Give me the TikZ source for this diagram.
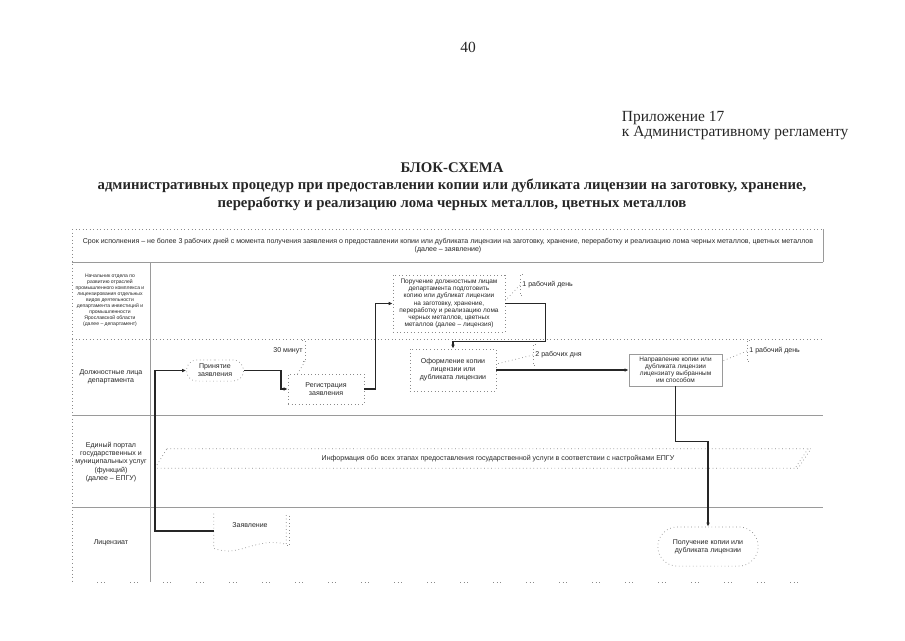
\documentclass[tikz,border=0pt]{standalone}
\usepackage{fontspec}
\setmainfont{Liberation Serif}
\setsansfont{Liberation Sans}
\usepackage{tikz}
\usetikzlibrary{arrows.meta,positioning,calc,shapes.misc}
\usepackage{xcolor}
\definecolor{ink}{HTML}{262626}
\definecolor{frame}{HTML}{9A9A9A}
\definecolor{dots}{HTML}{8A8A8A}
\newcommand{\pagefont}{\fontsize{11}{13}\selectfont}
\newcommand{\titlefont}{\bfseries\fontsize{10.5}{12.5}\selectfont}
\newcommand{\tinyfont}{\sffamily\fontsize{5}{5.8}\selectfont}
\newcommand{\boxfont}{\sffamily\fontsize{4.6}{5.1}\selectfont}
\newcommand{\microfont}{\sffamily\fontsize{3.6}{4.3}\selectfont}
\tikzset{
  >={Latex[length=2.8pt,width=2.6pt]},
  every node/.style={text=ink},
  gridline/.style={draw=frame,line width=0.5pt},
  dotline/.style={draw=dots,dotted,line width=0.5pt},
  lanetext/.style={font=\tinyfont,align=center,inner sep=1pt},
  procbox/.style={draw=dots,dotted,line width=0.5pt,align=center,font=\tinyfont,inner sep=1pt},
  solidbox/.style={procbox,solid,draw=frame},
  termbox/.style={procbox,rounded rectangle},
  docbox/.style={align=center,font=\tinyfont,inner sep=1pt},
  notetext/.style={font=\tinyfont,inner sep=1.5pt,minimum height=0.5cm},
  bracket/.style={draw=dots,dotted,line width=0.5pt},
  flow/.style={->,draw=ink,line width=0.8pt},
}

\begin{document}
\begin{tikzpicture}[x=0.025cm,y=-0.025cm]
\useasboundingbox (0,0) rectangle (905,640);

% page header
\node[font=\pagefont] (pgnum) at (468,47) {40};
\node[font=\pagefont,anchor=west] (appx) at (617,118) {Приложение 17};
\node[font=\pagefont,anchor=west] (appxb) at (617,133) {к Административному регламенту};
\node[font=\titlefont] (title) at (452,168) {БЛОК-СХЕМА};
\node[font=\titlefont] (sub1) at (452,186) {административных процедур при предоставлении копии или дубликата лицензии на заготовку, хранение,};
\node[font=\titlefont] (sub2) at (452,204) {переработку и реализацию лома черных металлов, цветных металлов};

% lanes
\draw[dotline] (72,229) -- (72,582);
\draw[dotline] (72,229) -- (823,229);
\draw[gridline] (823,229) -- (823,262);
\draw[gridline] (72,262) -- (823,262);
\draw[dotline] (72,339) -- (823,339);
\draw[gridline] (72,415) -- (823,415);
\draw[gridline] (72,507) -- (823,507);
\draw[gridline] (150,262) -- (150,582);
\foreach \x in {97,130,...,810}
  \draw[dotline] (\x,582) -- ++(10,0);

\node[lanetext] (term) at (448,246) {Срок исполнения – не более 3 рабочих дней с момента получения заявления о предоставлении копии или дубликата  лицензии на заготовку, хранение, переработку и реализацию лома черных металлов, цветных металлов\\(далее – заявление)};

\node[lanetext,font=\microfont] (lane1) at (110,300) {Начальник отдела по\\развитию отраслей\\промышленного комплекса и\\лицензирования отдельных\\видов деятельности\\департамента инвестиций и\\промышленности\\Ярославской области\\(далее – департамент)};
\node[lanetext] (lane2) at (111,377) {Должностные лица\\департамента};
\node[lanetext] (lane3) at (111,462) {Единый портал\\государственных и\\муниципальных услуг\\(функций)\\(далее – ЕПГУ)};
\node[lanetext] (lane4) at (111,543) {Лицензиат};

% steps
\node[termbox,minimum width=1.5cm,minimum height=0.53cm] (prin) at (215,370.5) {Принятие\\заявления};
\node[procbox,minimum width=1.9cm,minimum height=0.75cm] (reg) at (326,389) {Регистрация\\заявления};
\node[procbox,font=\boxfont,minimum width=2.8cm,minimum height=1.42cm] (poruch) at (449,303.5) {Поручение должностным лицам\\департамента подготовить\\копию или дубликат лицензии\\на заготовку, хранение,\\переработку и реализацию лома\\черных металлов, цветных\\металлов (далее – лицензия)};
\node[procbox,minimum width=2.15cm,minimum height=1.05cm] (ofor) at (453,370) {Оформление копии\\лицензии или\\дубликата лицензии};
\node[solidbox,font=\boxfont,minimum width=2.33cm,minimum height=0.8cm] (naprav) at (675.5,370) {Направление копии или\\дубликата лицензии\\лицензиату выбранным\\им способом};
\node[termbox,minimum width=2.58cm,minimum height=0.98cm] (poluch) at (708,546.5) {Получение копии или\\дубликата лицензии};

% document shape
\node[docbox,minimum width=1.8cm,minimum height=0.85cm] (zayav) at (250,531) {Заявление\\[3pt]\mbox{}};
\draw[bracket] (zayav.north west) -- (zayav.south west)
  .. controls ($(zayav.south)+(-10,10)$) and ($(zayav.south)+(5,-12)$) .. ($(zayav.south east)+(0,-4)$)
  -- (zayav.north east);
\draw[bracket] ($(zayav.north east)+(3,2)$) -- ($(zayav.south east)+(3,-3)$) -- ($(zayav.south east)+(0,-3)$);

% portal band
\node[lanetext,minimum height=0.475cm] (info) at (498,458.5) {Информация обо всех этапах предоставления государственной услуги в соответствии с настройками ЕПГУ};
\draw[bracket] ([xshift=-8.275cm]info.north) -- ([xshift=7.825cm]info.north)
  -- ([xshift=7.5cm]info.south) -- ([xshift=-8.575cm]info.south) -- cycle;
\draw[bracket] ([xshift=7.75cm]info.north) -- ([xshift=7.425cm]info.south);

% notes
\node[notetext,anchor=east] (t30) at (305,351) {30 минут};
\draw[bracket] ([xshift=-2]t30.north east) -- (t30.north east) -- (t30.south east) -- ([xshift=-2]t30.south east);
\draw[bracket] (t30.south east) -- ($(reg.north west)+(10,0)$);

\node[notetext,anchor=west] (day1) at (520,285) {1 рабочий день};
\draw[bracket] ([xshift=2]day1.north west) -- (day1.north west) -- (day1.south west) -- ([xshift=2]day1.south west);
\draw[bracket] (day1.west) -- ($(poruch.east)+(0,-3)$);

\node[notetext,anchor=west] (day2) at (533,355) {2 рабочих дня};
\draw[bracket] ([xshift=2]day2.north west) -- (day2.north west) -- (day2.south west) -- ([xshift=2]day2.south west);
\draw[bracket] (day2.west) -- ($(ofor.east)+(0,-6)$);

\node[notetext,anchor=west] (day3) at (747,351) {1 рабочий день};
\draw[bracket] ([xshift=2]day3.north west) -- (day3.north west) -- (day3.south west) -- ([xshift=2]day3.south west);
\draw[bracket] (day3.west) -- ($(naprav.east)+(0,-9)$);

% flow
\coordinate (bus) at (155,0);
\draw[flow] (zayav.west) -- (zayav.west -| bus) |- (prin.west);
\draw[flow] (prin.east) -- ++(37,0) |- (reg.west);
\draw[flow] (reg.east) -- ++(11,0) |- (poruch.west);
\draw[flow] (poruch.east) -- ++(40,0) -- ++(0,38) -| (ofor.north);
\draw[flow] (ofor.east) -- (naprav.west);
\draw[flow] (naprav.south) -- ++(0,55) -| (poluch.north);

\end{tikzpicture}
\end{document}
